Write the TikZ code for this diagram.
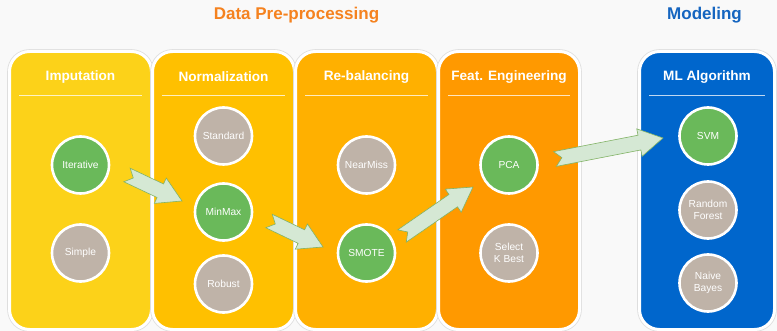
\documentclass[tikz,border=0pt]{standalone}
\usepackage{fontspec}
\setmainfont{Liberation Sans}
\usetikzlibrary{calc}

\definecolor{pageback}{HTML}{F9F9F9}
\definecolor{impcol}{HTML}{FCD219}
\definecolor{normcol}{HTML}{FFC000}
\definecolor{rebcol}{HTML}{FFB000}
\definecolor{featcol}{HTML}{FF9900}
\definecolor{mlcol}{HTML}{0066CC}
\definecolor{chosen}{HTML}{6AB95A}
\definecolor{other}{HTML}{BFB3A8}
\definecolor{arrfill}{HTML}{D5E8D4}
\definecolor{arrline}{HTML}{82B366}
\definecolor{preptitle}{HTML}{F5821F}
\definecolor{modtitle}{HTML}{1565C0}

\tikzset{
  stage/.style={rectangle, rounded corners=20pt, draw=white, line width=3pt,
    preaction={draw=black!13, line width=4.6pt},
    minimum height=278pt, inner sep=0pt},
  stagehead/.style={font=\fontsize{13.6}{15}\selectfont\bfseries, text=white},
  headrule/.style={draw=white, opacity=0.75, line width=0.9pt},
  option/.style={circle, draw=white, line width=2.6pt, minimum size=57pt,
    inner sep=0pt, text=white, align=center,
    font=\fontsize{10.2}{12}\selectfont},
  picked/.style={option, fill=chosen},
  skipped/.style={option, fill=other},
  grouptitle/.style={font=\fontsize{17}{19}\selectfont\bfseries},
  flowarrow/.style={fill=arrfill, draw=arrline, line width=0.6pt, line join=miter},
}

% notched block arrow from one named point to another
\newcommand\notchedarrow[2]{%
  \pgfpointdiff{\pgfpointanchor{#1}{center}}{\pgfpointanchor{#2}{center}}%
  \pgfgetlastxy\arrdx\arrdy
  \pgfmathsetmacro\arrang{atan2(\arrdy,\arrdx)}%
  \pgfmathsetmacro\arrlen{veclen(\arrdx,\arrdy)}%
  \begin{scope}[shift={(#1)}, rotate=\arrang]
    \draw[flowarrow] (0,7.5) -- (\arrlen-24,7.5) -- (\arrlen-24,14) -- (\arrlen,0)
      -- (\arrlen-24,-14) -- (\arrlen-24,-7.5) -- (0,-7.5) -- (7,0) -- cycle;
  \end{scope}}

\begin{document}
\begin{tikzpicture}[x=1pt, y=-1pt]
  \useasboundingbox[fill=pageback] (0,0) rectangle (777,331);

  % group titles
  \node[grouptitle, text=preptitle] (prep) at (296.5,15.5) {Data Pre-processing};
  \node[grouptitle, text=modtitle] (model) at (704.5,15.5) {Modeling};

  % stage panels
  \node[stage, fill=impcol,  minimum width=142pt] (p1) at (80.5,190.5) {};
  \node[stage, fill=normcol, minimum width=142pt] (p2) at (223.5,190.5) {};
  \node[stage, fill=rebcol,  minimum width=142pt] (p3) at (366.5,190.5) {};
  \node[stage, fill=featcol, minimum width=141pt] (p4) at (509,190.5) {};
  \node[stage, fill=mlcol,   minimum width=135pt] (p5) at (707,190.5) {};

  % panel headings with rules
  \foreach \p/\t/\x/\w in {p1/Imputation/80.5/61.5, p2/Normalization/223.5/61.5,
      p3/Re-balancing/366.5/61.5, p4/Feat. Engineering/509/61, p5/ML Algorithm/707/58} {
    \node[stagehead] (\p h) at (\x,77) {\t};
    \draw[headrule] (\x-\w,95) -- (\x+\w,95);
  }

  % options per stage
  \node[picked]  (iter)   at (80.5,165) {Iterative};
  \node[skipped] (simple) at (80.5,253) {Simple};

  \node[skipped] (std)    at (223.5,136) {Standard};
  \node[picked]  (minmax) at (223.5,212) {MinMax};
  \node[skipped] (robust) at (223.5,284) {Robust};

  \node[skipped] (near)   at (366.5,165) {NearMiss};
  \node[picked]  (smote)  at (366.5,253) {SMOTE};

  \node[picked]  (pca)    at (509,165) {PCA};
  \node[skipped] (kbest)  at (509,253) {Select\\K Best};

  \node[picked]  (svm)    at (708,136) {SVM};
  \node[skipped] (rf)     at (708,210) {Random\\Forest};
  \node[skipped] (nb)     at (708,283) {Naive\\Bayes};

  % arrow ends beside the chosen options
  \coordinate (a1s) at ($(iter)+(46.5,10)$);
  \coordinate (a1e) at ($(minmax)+(-41.5,-11)$);
  \coordinate (a2s) at ($(minmax)+(45.5,9)$);
  \coordinate (a2e) at ($(smote)+(-43.5,-6)$);
  \coordinate (a3s) at ($(smote)+(35.5,-17)$);
  \coordinate (a3e) at ($(pca)+(-36,22)$);
  \coordinate (a4s) at ($(pca)+(46,-6)$);
  \coordinate (a4e) at ($(svm)+(-45,2)$);

  \notchedarrow{a1s}{a1e}
  \notchedarrow{a2s}{a2e}
  \notchedarrow{a3s}{a3e}
  \notchedarrow{a4s}{a4e}
\end{tikzpicture}
\end{document}
